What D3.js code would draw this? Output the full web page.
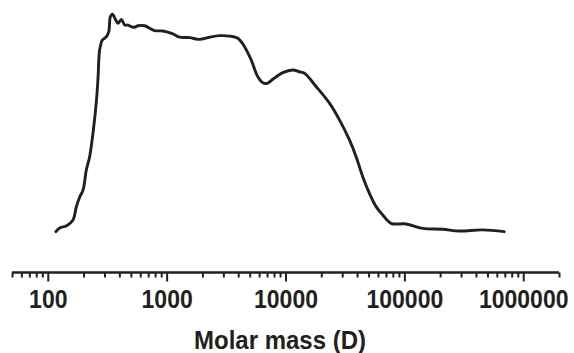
<!DOCTYPE html>
<html><head><meta charset="utf-8">
<script src="https://cdn.jsdelivr.net/npm/d3@7"></script>
<style>
html,body{margin:0;padding:0;background:#fff;}
svg{display:block;}
text{font-family:"Liberation Sans",Arial,Helvetica,sans-serif;font-weight:bold;fill:#231f20;}
</style></head>
<body>
<svg id="chart" width="574" height="353"></svg>
<script>
// Molar mass (D)
const mass = [117,126,144,163,174,186,198,211,225,240,257,265,273,288,311,326,336,350,373,390,416,444,473,505,538,574,653,793,931,1130,1285,1560,1893,2297,2788,3383,3972,4522,5150,5852,6444,7018,7822,9488,11510,13110,14450,18130,23440,28440,34500,39270,44640,50830,57810,65750,77280,103300,142500,209800,289700,454600,691800];
// Relative signal (arbitrary units)
const signal = [0.6,2.3,3.3,5.9,12.0,16.5,19.5,28.6,34.7,45.3,60.5,71.0,83.2,87.7,89.2,91.5,98.3,99.5,96.8,95.3,97.1,94.5,94.5,93.8,93.5,94.2,94.2,92.0,91.8,90.5,89.0,88.8,88.0,89.0,89.7,89.5,88.5,84.7,78.6,71.0,68.3,68.0,69.9,72.9,74.1,73.3,72.6,66.5,59.0,51.4,42.3,34.7,25.6,18.0,12.0,8.2,4.4,4.1,2.1,1.7,0.9,1.4,0.6];
const majorTicks = [100,1000,10000,100000,1000000];
const minorTicks = [50,60,70,80,90,200,300,400,500,600,700,800,900,2000,3000,4000,5000,6000,7000,8000,9000,20000,30000,40000,50000,60000,70000,80000,90000,200000,300000,400000,500000,600000,700000,800000,900000,2000000];
const xTitle = "Molar mass (D)";

const svg = d3.select("#chart");
const x = d3.scaleLog().domain([50, 2000000]).range([12, 559]);
const y = d3.scaleLinear().domain([0, 100]).range([233, 13]);
const axisY = 272.5;

const line = d3.line().x((d,i)=>x(mass[i])).y((d,i)=>y(signal[i])).curve(d3.curveCatmullRom.alpha(0.5));
svg.append("path").datum(mass).attr("d", line)
  .attr("fill","none").attr("stroke","#231f20").attr("stroke-width",2.9)
  .attr("stroke-linejoin","round").attr("stroke-linecap","round");

const gMinor = svg.append("g").attr("transform",`translate(0,${axisY})`)
  .call(d3.axisBottom(x).tickValues(minorTicks).tickSize(5).tickFormat(""));
const gMajor = svg.append("g").attr("transform",`translate(0,${axisY})`)
  .call(d3.axisBottom(x).tickValues(majorTicks).tickSize(9).tickFormat(d3.format("d")));
[gMinor,gMajor].forEach(g=>{
  g.select(".domain").attr("stroke","#231f20").attr("stroke-width",2.2).attr("d",`M${x(50)},0H${x(2000000)}`);
  g.selectAll(".tick line").attr("stroke","#231f20").attr("stroke-width",2);
});
gMajor.attr("font-family",null).attr("font-size",null);
gMajor.selectAll(".tick text").attr("font-size",23).attr("fill","#231f20")
  .attr("y",0).attr("dy",0).attr("transform","translate(0,35.5) scale(1,1.15)");

svg.append("text").attr("transform","translate(280,348.5) scale(1,1.08)").attr("text-anchor","middle")
  .attr("font-size",24).text(xTitle);
</script>
</body></html>
